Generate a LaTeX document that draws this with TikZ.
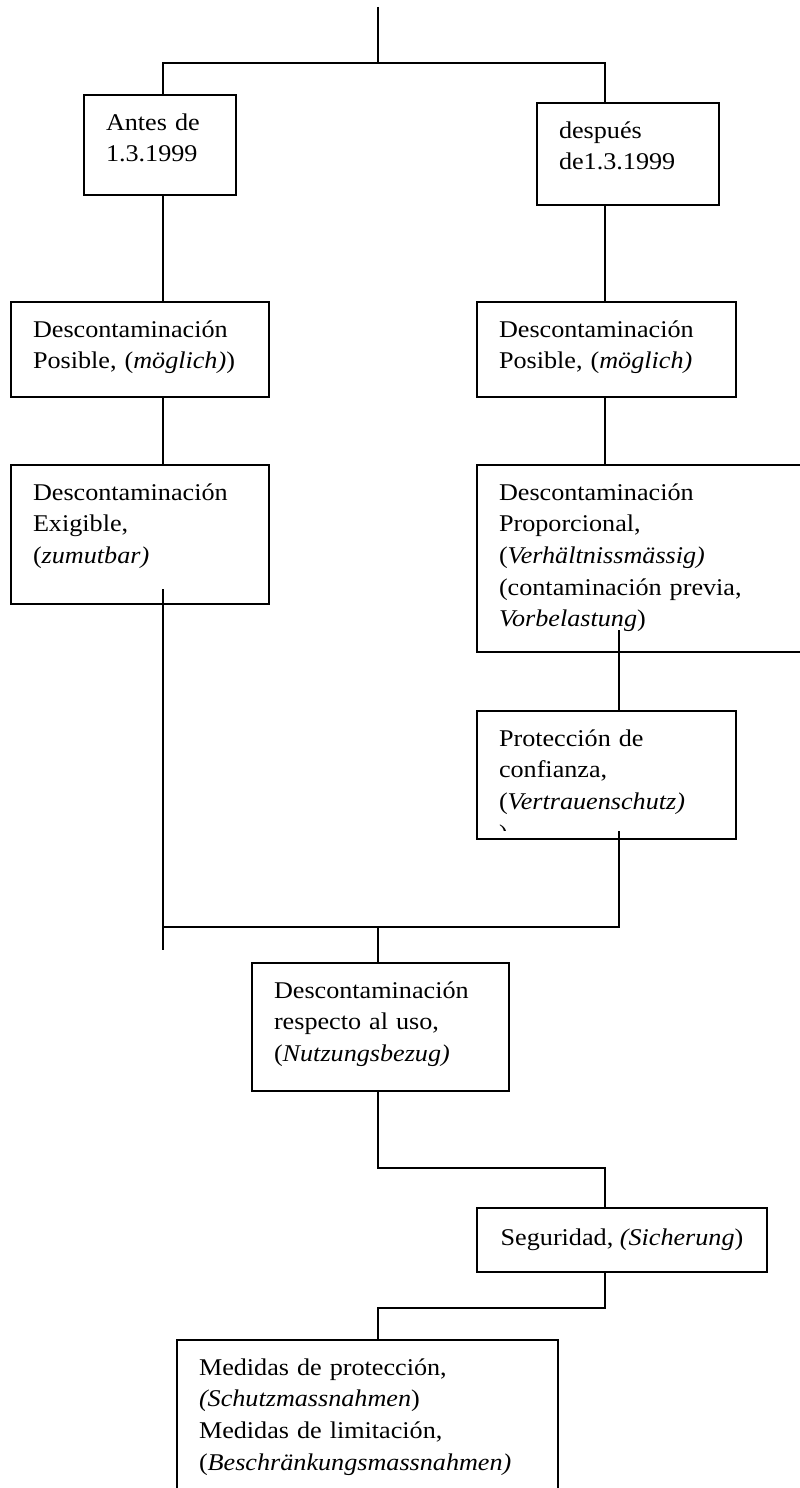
\documentclass[tikz,border=0pt]{standalone}
\usepackage{fontspec}
\setmainfont{Liberation Serif}[FakeStretch=1.09]

\begin{document}
\begin{tikzpicture}[
    x=1pt, y=-1pt,
    every node/.style={font=\fontsize{24}{31.7}\selectfont},
    cell/.style={draw, line width=1.8pt, anchor=north west, outer sep=0pt,
        inner xsep=22pt, inner ysep=0pt, align=left, text height=35pt},
    link/.style={line width=1.4pt}
]
    \useasboundingbox (0,0) rectangle (800,1488);
    \clip (0,0) rectangle (800,1488);

    \node[cell, text width=108pt, text depth=65pt]  (antes)   at (84,95)   {Antes de\\1.3.1999};
    \node[cell, text width=138pt, text depth=67pt]  (despues) at (537,103) {después\\de1.3.1999};
    \node[cell, text width=214pt, text depth=60pt]  (posl)    at (11,302)  {Descontaminación\\Posible, (\textit{möglich)})};
    \node[cell, text width=215pt, text depth=60pt]  (posr)    at (477,302) {Descontaminación\\Posible, (\textit{möglich)}};
    \node[cell, text width=214pt, text depth=104pt] (exig)    at (11,465)  {Descontaminación\\Exigible,\\(\textit{zumutbar)}};
    \node[cell, text width=286pt, text depth=152pt] (prop)    at (477,465) {Descontaminación\\Proporcional,\\(\textit{Verhältnissmässig)}\\(contaminación previa,\\\textit{Vorbelastung})};
    \node[cell, text width=215pt, text depth=93pt]  (prot)    at (477,711) {Protección de\\confianza,\\(\textit{Vertrauenschutz)}};
    \node[cell, text width=213pt, text depth=93pt]  (nutz)    at (252,963) {Descontaminación\\respecto al uso,\\(\textit{Nutzungsbezug)}};
    \node[cell, minimum width=290pt, text height=37pt, text depth=27pt] (segu) at (477,1208) {Seguridad, \textit{(Sicherung})};
    \node[cell, text width=337pt, text depth=165pt] (medi)    at (177,1340) {Medidas de protección,\\\textit{(Schutzmassnahmen})\\Medidas de limitación,\\(\textit{Beschränkungsmassnahmen)}};

    \begin{scope}
        \clip (prot.north west) rectangle ([yshift=9pt]prot.south east);
        \node[anchor=base west, inner sep=0pt] (protend) at ([xshift=22pt, yshift=-130pt]prot.north west) {)};
    \end{scope}

    \coordinate (top)   at (378,7);
    \coordinate (jtop)  at (378,63);
    \coordinate (xl)    at (163,0);
    \coordinate (xr)    at (605,0);
    \coordinate (xp)    at (619,0);
    \coordinate (jmid)  at (378,927);
    \coordinate (lend)  at (163,950);
    \coordinate (jnutz) at (378,1168);
    \coordinate (jsegu) at (378,1308);

    \draw[link] (top) -- (jtop);
    \draw[link] (antes.north -| xl) |- (jtop) -| (despues.north -| xr);
    \draw[link] (antes.south -| xl) -- (posl.north -| xl);
    \draw[link] (despues.south -| xr) -- (posr.north -| xr);
    \draw[link] (posl.south -| xl) -- (exig.north -| xl);
    \draw[link] (posr.south -| xr) -- (prop.north -| xr);
    \draw[link] (xl |- exig.south) ++(0,-15) -- (lend);
    \draw[link] (xp |- prop.south) ++(0,-22) -- (prot.north -| xp);
    \draw[link] (xp |- prot.south) ++(0,-8) |- (lend |- jmid);
    \draw[link] (jmid) -- (nutz.north -| jmid);
    \draw[link] (nutz.south -| jnutz) -- (jnutz) -| (segu.north -| xr);
    \draw[link] (segu.south -| xr) |- (jsegu) -- (medi.north -| jsegu);
\end{tikzpicture}
\end{document}
